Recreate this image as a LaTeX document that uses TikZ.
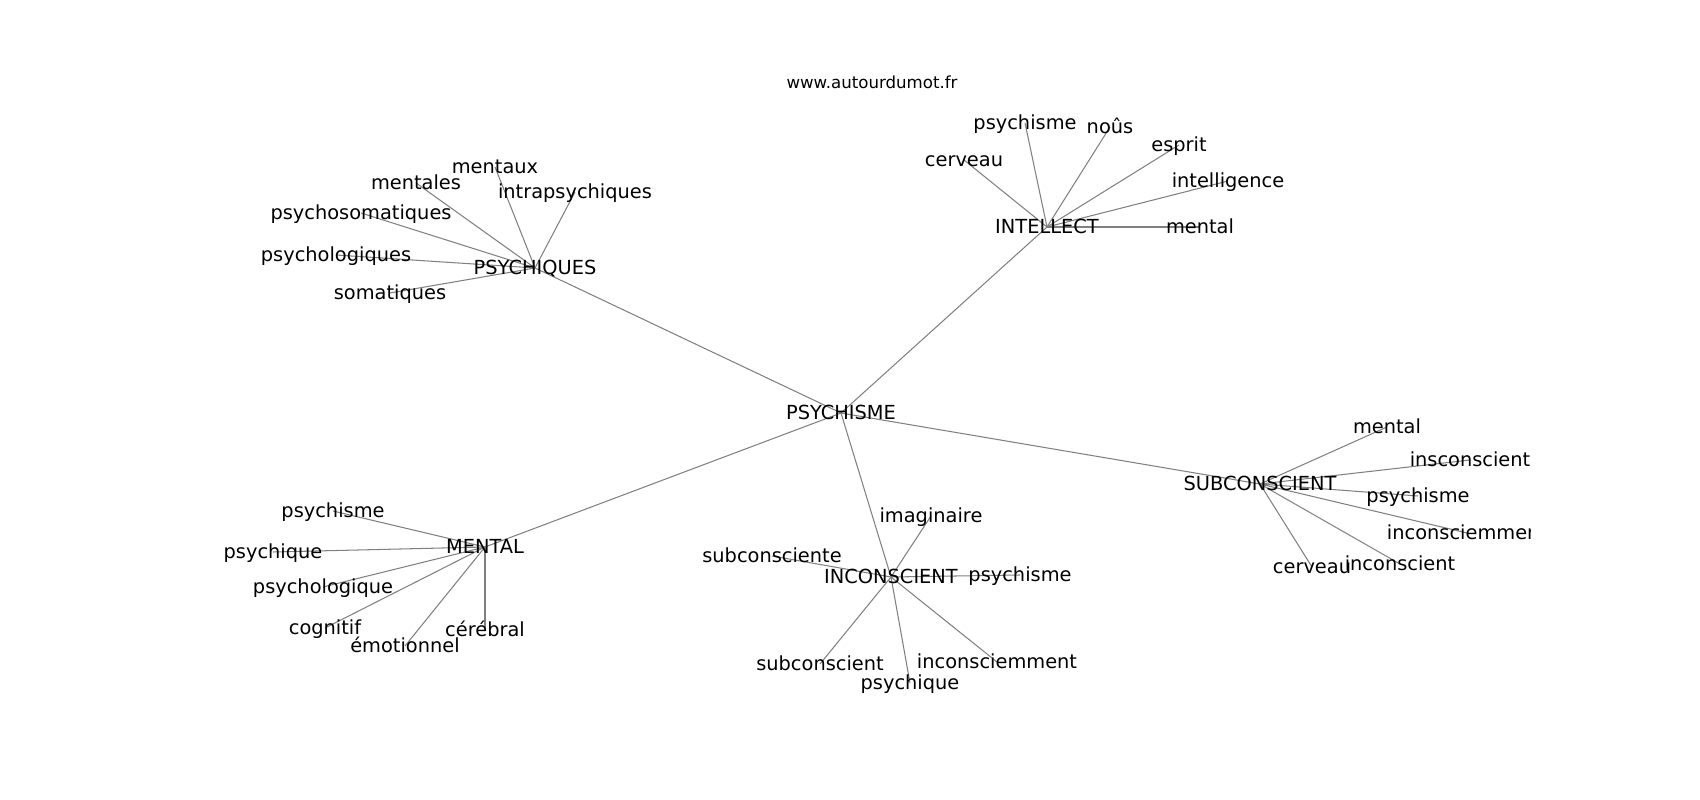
\documentclass[tikz,border=0pt]{standalone}
\usepackage{fontspec}
\setmainfont{DejaVu Sans}
\begin{document}
\begin{tikzpicture}[x=0.01in,y=-0.01in,
  lbl/.style={font=\fontsize{14}{16}\selectfont, inner sep=0pt, text height=0.76em, text depth=0.24em, anchor=center, text=black, yshift=-2.4pt},
  ttl/.style={font=\fontsize{12}{14}\selectfont, inner sep=0pt, text height=0.76em, text depth=0.24em, anchor=center, text=black, yshift=-1.6pt},
  edge/.style={draw=black!50, line width=0.75pt}]
\fill[white] (0,0) rectangle (1700,800);
\useasboundingbox (0,0) rectangle (1700,800);
\node[ttl] (title) at (872,83) {www.autourdumot.fr};
% hubs
\coordinate (hub) at (841,413);
\coordinate (psq) at (535,268);
\coordinate (itl) at (1047,227);
\coordinate (sub) at (1260,484);
\coordinate (inc) at (891,577);
\coordinate (men) at (485,547);
% leaf positions
\coordinate (p1) at (495,167);
\coordinate (p2) at (416,183);
\coordinate (p3) at (575,192);
\coordinate (p4) at (361,213);
\coordinate (p5) at (336,255);
\coordinate (p6) at (390,293);
\coordinate (i1) at (1025,123);
\coordinate (i2) at (1110,127);
\coordinate (i3) at (1179,145);
\coordinate (i4) at (964,160);
\coordinate (i5) at (1228,181);
\coordinate (i6) at (1200,227);
\coordinate (s1) at (1387,427);
\coordinate (s2) at (1470,460);
\coordinate (s3) at (1418,496);
\coordinate (s4) at (1467,533);
\coordinate (s5) at (1312,567);
\coordinate (s6) at (1400,564);
\coordinate (n1) at (931,516);
\coordinate (n2) at (772,556);
\coordinate (n3) at (1020,575);
\coordinate (n4) at (820,664);
\coordinate (n5) at (997,662);
\coordinate (n6) at (910,683);
\coordinate (m1) at (333,511);
\coordinate (m2) at (273,552);
\coordinate (m3) at (323,587);
\coordinate (m4) at (325,628);
\coordinate (m5) at (405,646);
\coordinate (m6) at (485,630);
% edges
\foreach \a/\b in {hub/psq,hub/itl,hub/sub,hub/inc,hub/men,
  psq/p1,psq/p2,psq/p3,psq/p4,psq/p5,psq/p6,
  itl/i1,itl/i2,itl/i3,itl/i4,itl/i5,itl/i6,
  sub/s1,sub/s2,sub/s3,sub/s4,sub/s5,sub/s6,
  inc/n1,inc/n2,inc/n3,inc/n4,inc/n5,inc/n6,
  men/m1,men/m2,men/m3,men/m4,men/m5,men/m6}
  \draw[edge] (\a) -- (\b);
% labels
\node[lbl] (Lhub) at (hub) {PSYCHISME};
\node[lbl] (Lpsq) at (psq) {PSYCHIQUES};
\node[lbl] (Litl) at (itl) {INTELLECT};
\node[lbl] (Lsub) at (sub) {SUBCONSCIENT};
\node[lbl] (Linc) at (inc) {INCONSCIENT};
\node[lbl] (Lmen) at (men) {MENTAL};
\node[lbl] (Lp1) at (p1) {mentaux};
\node[lbl] (Lp2) at (p2) {mentales};
\node[lbl] (Lp3) at (p3) {intrapsychiques};
\node[lbl] (Lp4) at (p4) {psychosomatiques};
\node[lbl] (Lp5) at (p5) {psychologiques};
\node[lbl] (Lp6) at (p6) {somatiques};
\node[lbl] (Li1) at (i1) {psychisme};
\node[lbl] (Li2) at (i2) {noûs};
\node[lbl] (Li3) at (i3) {esprit};
\node[lbl] (Li4) at (i4) {cerveau};
\node[lbl] (Li5) at (i5) {intelligence};
\node[lbl] (Li6) at (i6) {mental};
\begin{scope}
\clip (0,0) rectangle (1530,800);
\node[lbl] (Ls1) at (s1) {mental};
\node[lbl] (Ls2) at (s2) {insconscient};
\node[lbl] (Ls3) at (s3) {psychisme};
\node[lbl] (Ls4) at (s4) {inconsciemment};
\node[lbl] (Ls5) at (s5) {cerveau};
\node[lbl] (Ls6) at (s6) {inconscient};
\end{scope}
\node[lbl] (Ln1) at (n1) {imaginaire};
\node[lbl] (Ln2) at (n2) {subconsciente};
\node[lbl] (Ln3) at (n3) {psychisme};
\node[lbl] (Ln4) at (n4) {subconscient};
\node[lbl] (Ln5) at (n5) {inconsciemment};
\node[lbl] (Ln6) at (n6) {psychique};
\node[lbl] (Lm1) at (m1) {psychisme};
\node[lbl] (Lm2) at (m2) {psychique};
\node[lbl] (Lm3) at (m3) {psychologique};
\node[lbl] (Lm4) at (m4) {cognitif};
\node[lbl] (Lm5) at (m5) {émotionnel};
\node[lbl] (Lm6) at (m6) {cérébral};
\end{tikzpicture}
\end{document}
